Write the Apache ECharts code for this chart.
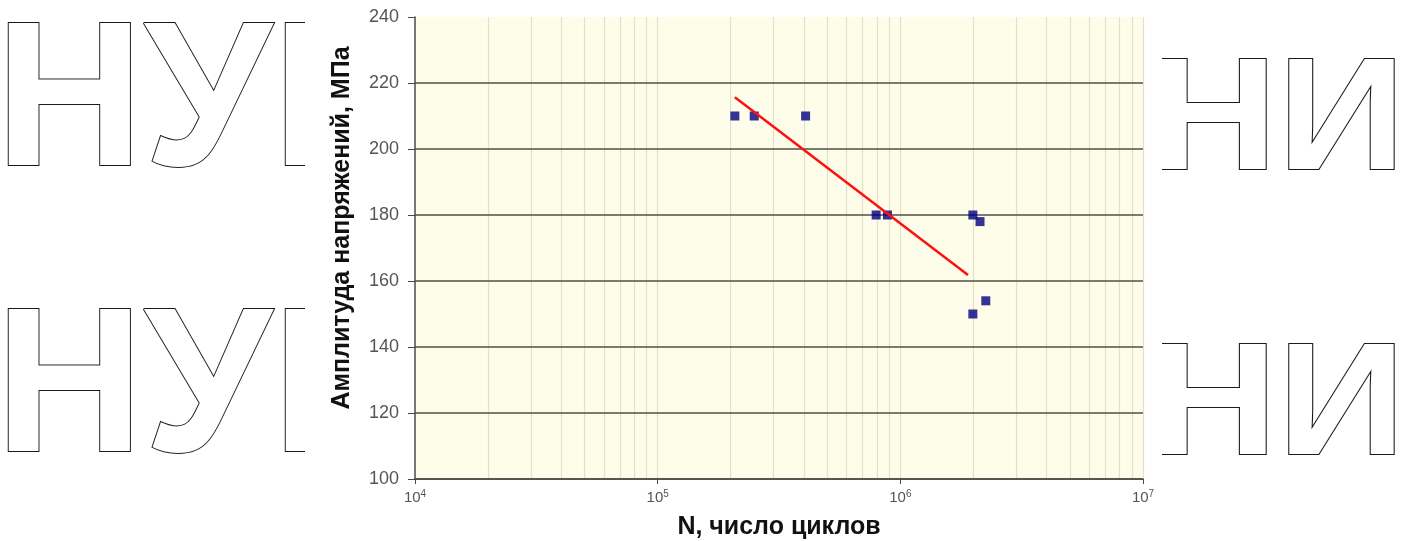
<!DOCTYPE html>
<html>
<head>
<meta charset="utf-8">
<script src="https://cdn.jsdelivr.net/npm/echarts@6/dist/echarts.min.js"></script>
<style>
html,body{margin:0;padding:0;background:#fff;}
#c{width:1408px;height:541px;}
</style>
</head>
<body>
<div id="c"></div>
<script>
// ---- data ----
const cyclesN = [2.08e5, 2.5e5, 4.07e5, 7.95e5, 8.85e5, 1.99e6, 2.13e6, 1.99e6, 2.25e6];
const amplitudeMPa = [210, 210, 210, 180, 180, 180, 178, 150, 154];
const trendN = [2.08e5, 1.9e6];
const trendMPa = [215.7, 161.8];
const xExponents = [4, 5, 6, 7];
const yTicks = [100, 120, 140, 160, 180, 200, 220, 240];
const minorGridN = [];
[1e4, 1e5, 1e6].forEach(function (d) { for (let k = 2; k <= 10; k++) minorGridN.push(k * d); });
const xTitle = 'N, число циклов';
const yTitle = 'Амплитуда напряжений, МПа';
const watermarkLeft = 'НУН';
const watermarkRight = 'НИ';

const chart = echarts.init(document.getElementById('c'), null, {renderer: 'canvas'});

const wmStyle = function (txt, size) {
  return {
    text: txt, x: 0, y: 0,
    font: 'bold ' + size + 'px "Liberation Sans", Arial, sans-serif',
    fill: '#ffffff', stroke: '#1a1a1a', lineWidth: 2, lineJoin: 'round',
    verticalAlign: 'middle', align: 'left'
  };
};

chart.setOption({
  animation: false,
  backgroundColor: '#ffffff',
  graphic: [
    {type: 'text', x: -5, y: 108, z: -20, style: wmStyle(watermarkLeft, 206)},
    {type: 'text', x: -5, y: 394, z: -20, style: wmStyle(watermarkLeft, 206)},
    {type: 'text', x: 1149, y: 125, scaleX: 1.12, z: -20, style: wmStyle(watermarkRight, 159)},
    {type: 'text', x: 1149, y: 410, scaleX: 1.12, z: -20, style: wmStyle(watermarkRight, 159)},
    {type: 'rect', z: -10, shape: {x: 305, y: 0, width: 857, height: 541}, style: {fill: '#ffffff'}}
  ],
  grid: {
    left: 415, right: 265, top: 17, bottom: 62,
    outerBoundsMode: 'none', containLabel: false,
    show: true, backgroundColor: '#fdfdea', borderWidth: 0
  },
  xAxis: {
    type: 'log', logBase: 10, min: 1e4, max: 1e7, z: 5,
    name: xTitle, nameLocation: 'middle', nameGap: 36,
    nameTextStyle: {fontFamily: '"Liberation Sans", Arial', fontWeight: 'bold', fontSize: 25, color: '#111'},
    axisLine: {show: true, lineStyle: {color: '#4a4a44', width: 1.5}},
    axisTick: {show: true, length: 5, lineStyle: {color: '#4a4a44'}},
    splitLine: {show: false},
    axisLabel: {
      margin: 10,
      formatter: function (v) {
        const e = Math.round(Math.log10(v));
        return xExponents.indexOf(e) >= 0 ? '{b|10}{s|' + e + '}' : '';
      },
      rich: {
        b: {fontFamily: '"Liberation Sans", Arial', fontSize: 15, color: '#555'},
        s: {fontFamily: '"Liberation Sans", Arial', fontSize: 10, color: '#555', padding: [0, 0, 8, 0]}
      }
    }
  },
  yAxis: {
    type: 'value', min: yTicks[0], max: yTicks[yTicks.length - 1], interval: 20, z: 5,
    name: yTitle, nameLocation: 'middle', nameGap: 60,
    nameTextStyle: {fontFamily: '"Liberation Sans", Arial', fontWeight: 'bold', fontSize: 25, color: '#111', padding: [0, 0, 0, 40]},
    axisLine: {show: true, lineStyle: {color: '#4a4a44', width: 1.5}},
    axisTick: {show: true, length: 7, lineStyle: {color: '#4a4a44'}},
    splitLine: {show: true, showMaxLine: false, lineStyle: {color: '#4f4f4a', width: 1.5}},
    axisLabel: {margin: 16, fontFamily: '"Liberation Sans", Arial', fontSize: 18, color: '#555'}
  },
  series: [
    {
      type: 'line', name: 'grid', data: [], silent: true, z: 1,
      markLine: {
        silent: true, symbol: 'none', label: {show: false}, animation: false, z: 1,
        lineStyle: {color: '#e2e2cc', width: 1.2, type: 'solid'},
        data: minorGridN.map(function (v) { return {xAxis: v}; })
      }
    },
    {
      type: 'scatter', name: 'data', symbol: 'rect', symbolSize: 9,
      itemStyle: {color: '#000080'},
      data: cyclesN.map(function (n, i) { return [n, amplitudeMPa[i]]; }),
      z: 10
    },
    {
      type: 'line', name: 'trend', showSymbol: false, symbol: 'none',
      lineStyle: {color: '#ff1010', width: 2.5},
      data: trendN.map(function (n, i) { return [n, trendMPa[i]]; }),
      z: 11
    }
  ]
});
</script>
</body>
</html>
